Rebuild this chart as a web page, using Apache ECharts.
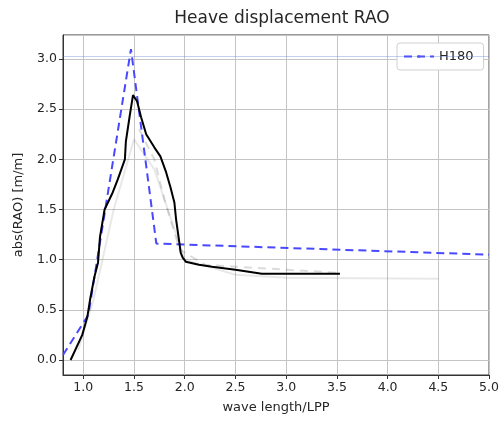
<!DOCTYPE html>
<html><head><meta charset="utf-8">
<script src="https://cdn.jsdelivr.net/npm/echarts@6/dist/echarts.min.js"></script>
<style>html,body{margin:0;padding:0;background:#fff}#c{width:502px;height:426px}</style>
</head><body><div id="c"></div>
<script>
// H180 (blue dashed)
const h180X = [0.80, 1.05, 1.47, 1.72, 5.00];
const h180Y = [0.05, 0.45, 3.10, 1.16, 1.05];
// black solid curve
const blackX = [0.875, 0.99, 1.04, 1.07, 1.11, 1.145, 1.165, 1.21, 1.29, 1.34, 1.41, 1.42, 1.457, 1.49, 1.53, 1.57, 1.62, 1.70, 1.76, 1.817, 1.86, 1.898, 1.915, 1.947, 1.96, 1.98, 2.01, 2.14, 2.27, 2.5, 2.76, 3.53];
const blackY = [0.00, 0.25, 0.43, 0.62, 0.83, 0.97, 1.23, 1.50, 1.67, 1.80, 2.00, 2.18, 2.43, 2.64, 2.58, 2.42, 2.25, 2.12, 2.03, 1.87, 1.72, 1.57, 1.40, 1.17, 1.07, 1.02, 0.98, 0.95, 0.93, 0.90, 0.86, 0.86];
// faint grey background curves
const grey1X = [0.95, 1.10, 1.30, 1.50, 1.70, 1.90, 2.00, 2.50, 3.00, 4.50];
const grey1Y = [0.10, 0.60, 1.50, 2.20, 1.90, 1.30, 1.00, 0.85, 0.82, 0.81];
const grey2X = [1.55, 1.70, 1.80, 1.95, 2.20, 2.50, 3.00, 3.50];
const grey2Y = [2.30, 2.00, 1.60, 1.10, 0.95, 0.93, 0.90, 0.87];
const refLineY = 3.03;

const zip = (xs, ys) => xs.map((x, i) => [x, ys[i]]);
const txt = '#262626';
const chart = echarts.init(document.getElementById('c'), null, {renderer: 'canvas'});
chart.setOption({
  animation: false,
  title: {text: 'Heave displacement RAO', left: 277, top: 5, textAlign: 'center',
    textStyle: {fontFamily: 'DejaVu Sans', fontSize: 17, fontWeight: 'normal', color: txt}},
  legend: {data: ['H180'], left: 397, top: 43, width: 87, height: 29, padding: [7, 10, 7, 6],
    backgroundColor: '#fff', borderColor: '#d0d0d0', borderWidth: 1, borderRadius: 3,
    itemWidth: 30, itemHeight: 3, itemGap: 8,
    textStyle: {fontFamily: 'DejaVu Sans', fontSize: 13, color: txt}},
  grid: {left: 63, right: 11, top: 35, bottom: 51, show: true, borderColor: '#333', borderWidth: 1},
  xAxis: {type: 'value', min: 0.8, max: 5.0, splitNumber: 8,
    name: 'wave length/LPP', nameLocation: 'middle', nameGap: 26,
    nameTextStyle: {fontFamily: 'DejaVu Sans', fontSize: 13, color: txt},
    axisLine: {show: true, onZero: false, lineStyle: {color: '#333', width: 1}},
    axisTick: {show: true, inside: false, length: 4, lineStyle: {color: '#333'}},
    axisLabel: {showMinLabel: false, color: txt, fontFamily: 'DejaVu Sans', fontSize: 12.5, margin: 6,
      formatter: v => v.toFixed(1)},
    splitLine: {show: true, lineStyle: {color: '#c4c4c4', width: 1}}},
  yAxis: {type: 'value', min: -0.15, max: 3.24, splitNumber: 7,
    name: 'abs(RAO) [m/m]', nameLocation: 'middle', nameGap: 38,
    nameTextStyle: {fontFamily: 'DejaVu Sans', fontSize: 13, color: txt},
    axisLine: {show: true, onZero: false, lineStyle: {color: '#333', width: 1}},
    axisTick: {show: true, inside: false, length: 4, lineStyle: {color: '#333'}},
    axisLabel: {showMinLabel: false, showMaxLabel: false, color: txt, fontFamily: 'DejaVu Sans', fontSize: 12.5, margin: 6,
      formatter: v => v.toFixed(1)},
    splitLine: {show: true, lineStyle: {color: '#c4c4c4', width: 1}}},
  series: [
    {name: 'grey1', type: 'line', data: zip(grey1X, grey1Y), symbol: 'none', silent: true,
      lineStyle: {color: 'rgba(0,0,0,0.09)', width: 2}, z: 1},
    {name: 'grey2', type: 'line', data: zip(grey2X, grey2Y), symbol: 'none', silent: true,
      lineStyle: {color: 'rgba(0,0,0,0.14)', width: 2, type: [8, 6]}, z: 1,
      markLine: {silent: true, symbol: 'none', label: {show: false},
        lineStyle: {color: 'rgba(90,120,220,0.35)', width: 1, type: 'solid'},
        data: [{yAxis: refLineY}]}},
    {name: 'H180', type: 'line', data: zip(h180X, h180Y), symbol: 'none', z: 3,
      itemStyle: {color: '#4848ff'},
      lineStyle: {color: '#4848ff', width: 2, type: [8, 5]}},
    {name: 'black', type: 'line', data: zip(blackX, blackY), symbol: 'none', z: 4,
      lineStyle: {color: '#000', width: 2}}
  ]
});
</script></body></html>
